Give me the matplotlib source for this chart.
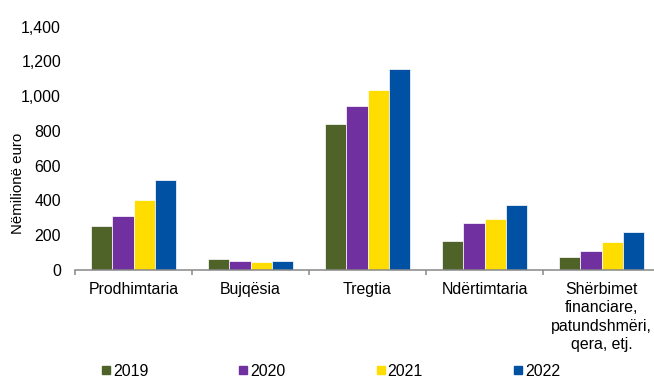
import numpy as np
import matplotlib.pyplot as plt
from matplotlib.lines import Line2D

"Data (milione euro)"
sectors = ["Prodhimtaria", "Bujqësia", "Tregtia", "Ndërtimtaria",
           "Shërbimet\nfinanciare,\npatundshmëri,\nqera, etj."]
years = ["2019", "2020", "2021", "2022"]
v_2019 = [255, 63, 840, 165, 73]
v_2020 = [312, 50, 943, 270, 107]
v_2021 = [401, 46, 1035, 293, 161]
v_2022 = [518, 52, 1156, 372, 217]
colors = ["#4F6228", "#7030A0", "#FFDD00", "#0050A3"]

values = [v_2019, v_2020, v_2021, v_2022]

plt.rcParams['font.family'] = ['Liberation Sans', 'DejaVu Sans']

fig = plt.figure(figsize=(6.54, 3.78), dpi=100)
ax = fig.add_axes([0.1147, 0.2857, 0.8945, 0.6437])

x = np.arange(len(sectors))
bar_w = 0.182
for i in range(len(years)):
    ax.bar(x + (i - 1.5) * bar_w, values[i], width=bar_w, color=colors[i],
           edgecolor="white", linewidth=0.5, label=years[i])

ax.set_xlim(-0.5, 4.5)
ax.set_ylim(0, 1400)
ax.set_yticks(np.arange(0, 1401, 200))
ax.set_yticklabels([f"{v:,}" for v in range(0, 1401, 200)])

# tick marks sit on the category boundaries
ax.set_xticks(np.arange(-0.5, 4.0, 1.0))
ax.set_xticklabels([])
ax.tick_params(axis="x", length=3.6, width=1.1, color="#888888")
ax.tick_params(axis="y", length=0, pad=10, labelsize=11.4)

# sector names under the centre of each group
for xi, name in zip(x, sectors):
    ax.annotate(name, xy=(xi, 0), xycoords=("data", "axes fraction"),
                xytext=(0, -8.3), textcoords="offset points",
                ha="center", va="top", fontsize=11.4, linespacing=1.3)

for side in ["top", "right", "left"]:
    ax.spines[side].set_visible(False)
ax.spines["bottom"].set_color("#888888")
ax.spines["bottom"].set_linewidth(1.1)

fig.text(18 / 654, 1 - 183 / 378, "Nëmilionë euro", rotation=90,
         ha="center", va="center", fontsize=10.8)

handles = [Line2D([], [], marker="s", linestyle="none", color=c, markersize=5.3)
           for c in colors]
fig.legend(handles, years, loc="center", bbox_to_anchor=(331 / 654, 1 - 371 / 378),
           ncol=4, frameon=False, fontsize=11.4, handlelength=0.5,
           handletextpad=0.2, columnspacing=5.75, borderpad=0)

fig.savefig("out.png", dpi=100)
